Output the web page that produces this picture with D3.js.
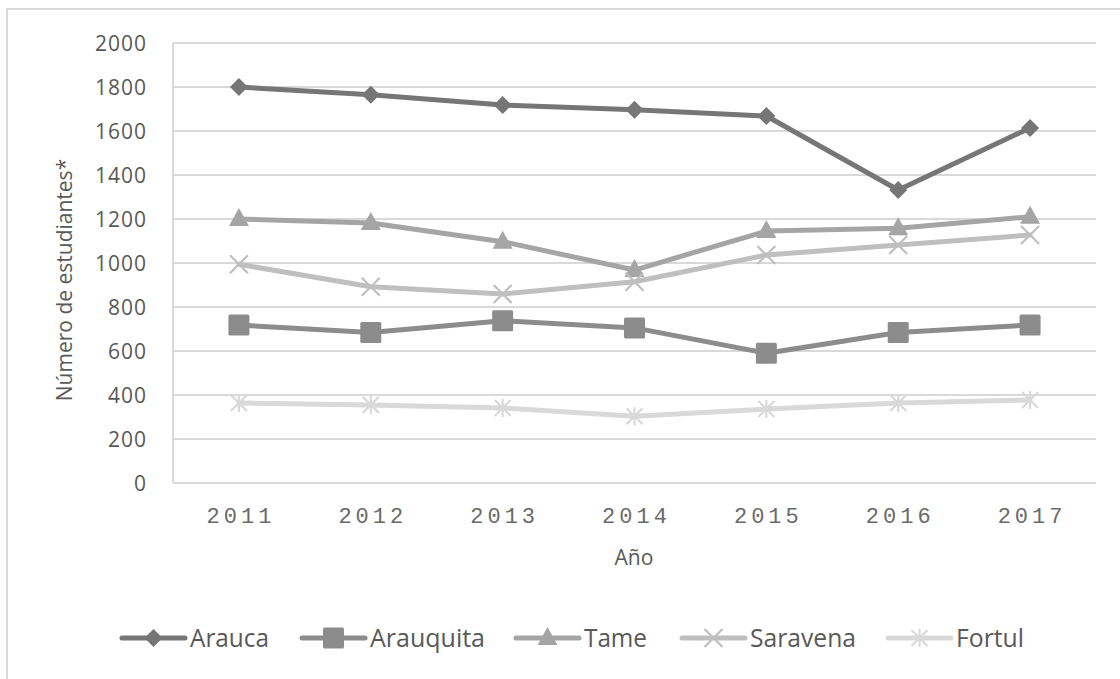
<!DOCTYPE html>
<html><head><meta charset="utf-8">
<script src="https://cdn.jsdelivr.net/npm/d3@7"></script>
<style>body{margin:0;background:#fff}svg{display:block}</style>
</head><body>
<svg id="c" width="1120" height="679"></svg>
<script>
const years = ["2011","2012","2013","2014","2015","2016","2017"];
const yTicks = [0,200,400,600,800,1000,1200,1400,1600,1800,2000];
const seriesNames = ["Arauca","Arauquita","Tame","Saravena","Fortul"];
const arauca    = [1800,1765,1718,1697,1668,1332,1614];
const arauquita = [718,684,738,705,590,684,718];
const tame      = [1200,1182,1097,968,1145,1158,1210];
const saravena  = [994,892,859,915,1036,1082,1127];
const fortul    = [364,355,341,303,336,364,377];
const seriesVals = [arauca, arauquita, tame, saravena, fortul];
const colors = ["#767676","#8c8c8c","#a5a5a5","#bfbfbf","#d9d9d9"];
const markers = ["diamond","square","triangle","x","star"];

const svg = d3.select("#c");
svg.append("path").attr("d","M7,679 V9 H1120").attr("fill","none").attr("stroke","#d9d9d9").attr("stroke-width",2);

const L=173, R=1096, T=43, B=483;
const x = d3.scaleBand().domain(years).range([L,R]);
const y = d3.scaleLinear().domain([0,2000]).range([B,T]);

svg.append("g").selectAll("line").data(yTicks).join("line")
  .attr("x1",L).attr("x2",R).attr("y1",d=>y(d)).attr("y2",d=>y(d))
  .attr("stroke","#d9d9d9").attr("stroke-width",2);
svg.append("line").attr("x1",L).attr("x2",L).attr("y1",T).attr("y2",B).attr("stroke","#d9d9d9").attr("stroke-width",2);

const yAxis = d3.axisLeft(y).tickValues(yTicks).tickFormat(d3.format("d")).tickSize(0).tickPadding(0);
const gy = svg.append("g").attr("transform",`translate(${L-26},0)`).call(yAxis);
gy.select(".domain").remove();
gy.selectAll("text").attr("font-family","'Open Sans', sans-serif").attr("font-size",21)
  .attr("fill","#595959").attr("letter-spacing","1px").attr("dy","0.35em");

const xAxis = d3.axisBottom(x).tickSize(0).tickPadding(0);
const gx = svg.append("g").attr("transform",`translate(0,${B+24})`).call(xAxis);
gx.select(".domain").remove();
gx.selectAll("text").attr("font-family","'Liberation Mono', 'DejaVu Sans Mono', monospace").attr("font-size",22)
  .attr("fill","#6a6a6a").attr("letter-spacing","4px").attr("dx","2px").attr("dy","0.71em");

svg.append("text").attr("x",634).attr("y",565).attr("text-anchor","middle")
  .attr("font-family","'Open Sans', sans-serif").attr("font-size",21).attr("fill","#595959").text("Año");
svg.append("text").attr("transform","translate(72,280) rotate(-90)").attr("text-anchor","middle")
  .attr("font-family","'Open Sans', sans-serif").attr("font-size",21).attr("fill","#595959").text("Número de estudiantes*");

function drawMarker(g, type, cx, cy, color){
  if(type==="diamond"){
    g.append("path").attr("d",`M${cx},${cy-9}L${cx+9},${cy}L${cx},${cy+9}L${cx-9},${cy}Z`).attr("fill",color);
  } else if(type==="square"){
    g.append("rect").attr("x",cx-10.5).attr("y",cy-10.5).attr("width",21).attr("height",21).attr("rx",1.5).attr("fill",color);
  } else if(type==="triangle"){
    g.append("path").attr("d",`M${cx},${cy-11}L${cx+10},${cy+7}L${cx-10},${cy+7}Z`).attr("fill",color);
  } else if(type==="x"){
    g.append("path").attr("d",`M${cx-9},${cy-9}L${cx+9},${cy+9}M${cx-9},${cy+9}L${cx+9},${cy-9}`).attr("stroke",color).attr("stroke-width",2.2);
  } else if(type==="star"){
    g.append("path").attr("d",`M${cx-8},${cy-8}L${cx+8},${cy+8}M${cx-8},${cy+8}L${cx+8},${cy-8}M${cx},${cy-9}L${cx},${cy+9}`).attr("stroke",color).attr("stroke-width",2.2);
  }
}

const line = d3.line().x((d,i)=>x(years[i])+x.bandwidth()/2).y(d=>y(d));
seriesVals.forEach((vals,si)=>{
  const g = svg.append("g");
  g.append("path").attr("d",line(vals)).attr("fill","none").attr("stroke",colors[si])
    .attr("stroke-width",5).attr("stroke-linejoin","round").attr("stroke-linecap","round");
  vals.forEach((v,i)=>drawMarker(g, markers[si], x(years[i])+x.bandwidth()/2, y(v), colors[si]));
});

const legendX = [122, 302, 516, 682, 888];
const textW = [79, 115, 63, 106, 68];
const ly = 638;
seriesNames.forEach((n,si)=>{
  const g = svg.append("g");
  const x0 = legendX[si];
  g.append("line").attr("x1",x0).attr("x2",x0+63).attr("y1",ly).attr("y2",ly)
    .attr("stroke",colors[si]).attr("stroke-width",5).attr("stroke-linecap","round");
  drawMarker(g, markers[si], x0+31.5, ly, colors[si]);
  g.append("text").attr("x",x0+68).attr("y",647)
    .attr("font-family","'Liberation Sans Narrow','Open Sans', sans-serif").attr("font-size",26)
    .attr("fill","#595959").attr("textLength",textW[si]).attr("lengthAdjust","spacingAndGlyphs").text(n);
});
</script>
</body></html>
